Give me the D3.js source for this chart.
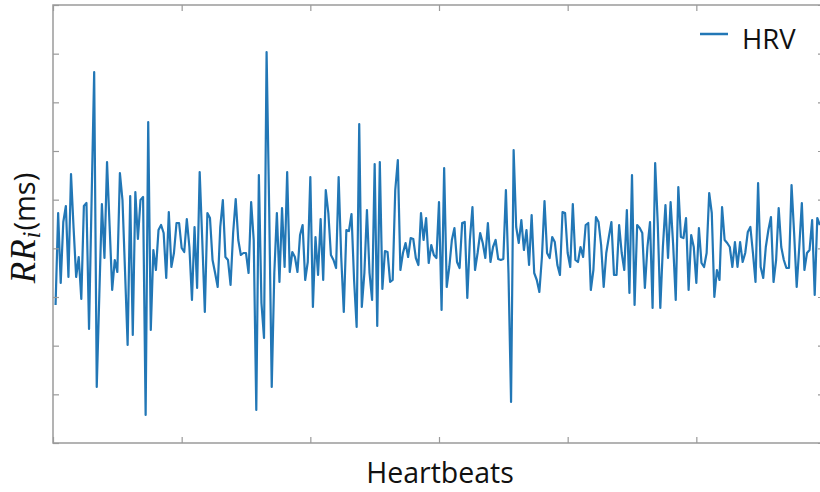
<!DOCTYPE html>
<html>
<head>
<meta charset="utf-8">
<script src="https://cdn.jsdelivr.net/npm/d3@7"></script>
<style>
  body { margin: 0; background: #fff; }
  svg { display: block; }
</style>
</head>
<body>
<svg id="chart" width="820" height="492"></svg>
<script>
// RR interval per heartbeat (ms), beat 1..298
var rr = [
  700,792,722,783,799,728,831,777,728,748,706,799,802,676,805,933,618,710,801,747,
  843,779,715,745,733,832,805,733,660,809,670,813,766,805,808,590,883,675,755,735,
  775,780,772,727,793,738,752,782,782,757,753,786,758,705,778,717,833,765,693,792,
  787,745,732,718,778,805,748,745,720,772,806,765,750,752,752,732,803,765,595,830,
  702,667,953,798,618,732,792,723,797,738,833,733,753,748,733,770,780,725,743,828,
  698,768,730,786,725,815,792,750,745,737,828,748,693,775,774,791,725,678,881,698,
  732,795,732,705,841,679,843,716,754,753,723,725,815,845,735,752,762,748,767,766,
  747,740,792,765,787,742,760,750,747,803,695,837,718,738,765,777,743,737,782,783,
  707,765,798,735,752,772,762,747,782,743,758,765,746,745,746,815,732,603,855,778,
  762,785,755,775,740,790,732,725,713,748,804,752,747,768,763,740,730,793,792,752,
  738,801,745,743,758,748,780,782,715,735,788,783,760,718,752,768,783,730,730,780,
  752,735,795,712,830,700,780,777,772,717,758,783,697,842,782,697,758,800,747,803,
  760,705,818,768,767,787,715,770,758,722,777,742,738,752,812,792,708,735,725,798,
  765,762,758,738,763,738,763,743,752,773,778,752,723,822,738,727,758,775,788,723,
  745,797,758,745,737,737,820,772,718,758,802,735,752,755,785,710,787,780
];
var beats = rr.map(function(d, i) { return i + 1; });

var xTicks = [0, 50, 100, 150, 200, 250, 300];
var yMin = 562, yMax = 1000;
var yTicks = d3.range(10).map(function(i) { return yMin + i * (yMax - yMin) / 9; });

var xLabel = "Heartbeats";
var seriesName = "HRV";

var svg = d3.select("#chart");
var pLeft = 53, pRight = 825, pTop = 5, pBottom = 443;

var x = d3.scaleLinear().domain([0, 300]).range([pLeft, pRight]);
var y = d3.scaleLinear().domain([yMin, yMax]).range([pBottom, pTop]);

var axisColor = "#9a9a9a";
var lineColor = "#2277b6";

// clip to plot box
svg.append("defs").append("clipPath").attr("id", "plotclip")
  .append("rect")
  .attr("x", pLeft).attr("y", pTop)
  .attr("width", pRight - pLeft).attr("height", pBottom - pTop);

// data line
var line = d3.line()
  .x(function(d, i) { return x(beats[i]); })
  .y(function(d) { return y(d); });

svg.append("path")
  .datum(rr)
  .attr("clip-path", "url(#plotclip)")
  .attr("fill", "none")
  .attr("stroke", lineColor)
  .attr("stroke-width", 2.2)
  .attr("stroke-linejoin", "round")
  .attr("d", line);

// axes, ticks pointing inward, no labels
function styleAxis(g) {
  g.select(".domain").remove();
  g.selectAll(".tick line").attr("stroke", axisColor).attr("stroke-width", 1.2);
  g.selectAll(".tick text").remove();
}

svg.append("g").attr("transform", "translate(0," + pBottom + ")")
  .call(d3.axisBottom(x).tickValues(xTicks).tickSize(-6).tickFormat(""))
  .call(styleAxis);
svg.append("g").attr("transform", "translate(0," + pTop + ")")
  .call(d3.axisTop(x).tickValues(xTicks).tickSize(-6).tickFormat(""))
  .call(styleAxis);
svg.append("g").attr("transform", "translate(" + pLeft + ",0)")
  .call(d3.axisLeft(y).tickValues(yTicks).tickSize(-6).tickFormat(""))
  .call(styleAxis);
svg.append("g").attr("transform", "translate(" + pRight + ",0)")
  .call(d3.axisRight(y).tickValues(yTicks).tickSize(-7).tickFormat(""))
  .call(styleAxis);

// frame
svg.append("rect")
  .attr("x", pLeft).attr("y", pTop)
  .attr("width", pRight - pLeft).attr("height", pBottom - pTop)
  .attr("fill", "none")
  .attr("stroke", axisColor)
  .attr("stroke-width", 1.5);

// legend
svg.append("line")
  .attr("x1", 700).attr("x2", 728)
  .attr("y1", 34).attr("y2", 34)
  .attr("stroke", lineColor).attr("stroke-width", 2.5);
svg.append("text")
  .attr("x", 742).attr("y", 49)
  .attr("font-family", "Open Sans, sans-serif")
  .attr("font-size", 27.5)
  .attr("fill", "#111")
  .text(seriesName);

// x label
svg.append("text")
  .attr("x", 440).attr("y", 483)
  .attr("text-anchor", "middle")
  .attr("font-family", "Open Sans, sans-serif")
  .attr("font-size", 28.5)
  .attr("fill", "#111")
  .text(xLabel);

// y label: RR_i (ms)
var yl = svg.append("text")
  .attr("transform", "translate(35,228) rotate(-90)")
  .attr("text-anchor", "middle")
  .attr("fill", "#111");
yl.append("tspan")
  .attr("font-family", "Liberation Serif, serif")
  .attr("font-style", "italic")
  .attr("font-size", 35)
  .attr("letter-spacing", 1)
  .text("RR");
yl.append("tspan")
  .attr("font-family", "Liberation Serif, serif")
  .attr("font-style", "italic")
  .attr("font-size", 25)
  .attr("dy", 5)
  .text("i");
yl.append("tspan")
  .attr("font-family", "Open Sans, sans-serif")
  .attr("font-size", 29)
  .attr("dx", 1)
  .attr("dy", -5)
  .text("(ms)");
</script>
</body>
</html>
